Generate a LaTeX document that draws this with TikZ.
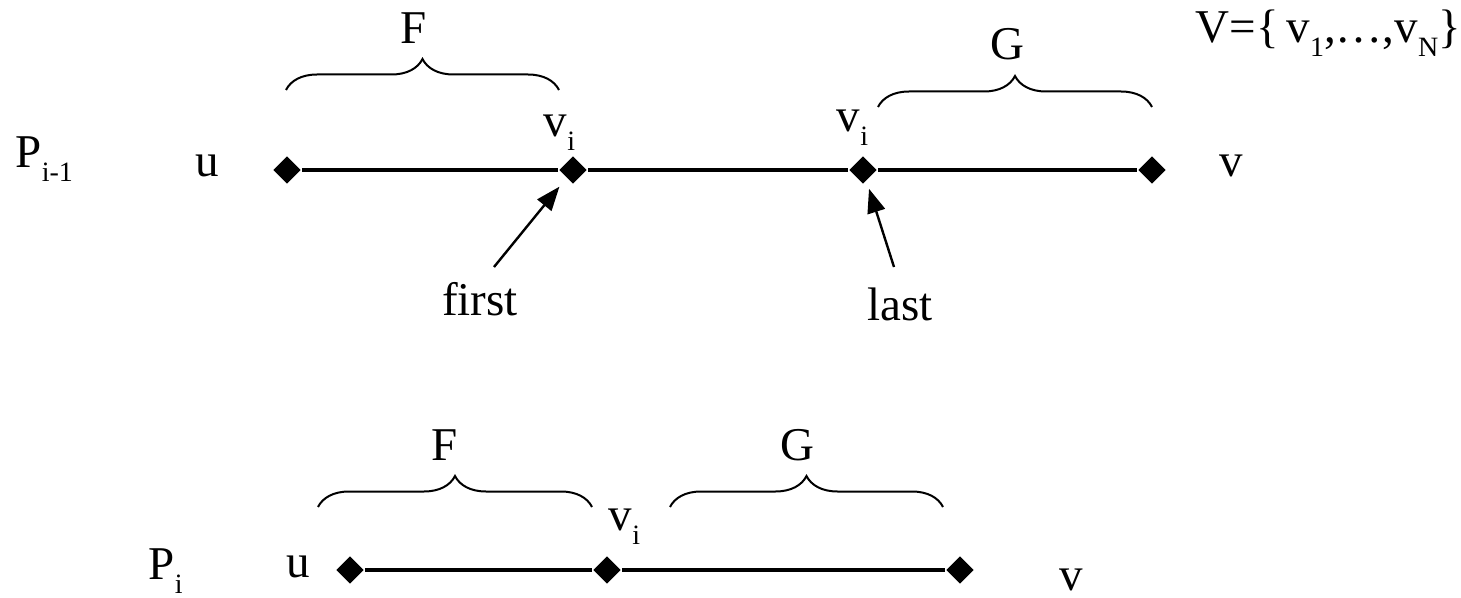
\documentclass[tikz,border=0pt]{standalone}
\usepackage{fontspec}
\setmainfont{Liberation Serif}
\usetikzlibrary{arrows.meta,shapes.geometric,decorations.pathreplacing}

\newcommand{\lowidx}[1]{\raisebox{-7pt}{\fontsize{14}{16}\selectfont #1}}

\tikzset{every picture/.style={line width=0.75pt}}
\tikzset{
  vtx/.style={diamond,fill=black,inner sep=0pt,minimum size=14pt},
  lbl/.style={font=\fontsize{23.5}{27}\selectfont,inner sep=0pt},
  pathln/.style={line width=1.6pt},
  brc/.style={decorate,decoration={brace,amplitude=15.5pt},line width=1pt},
  ptr/.style={-{Triangle[length=12pt,width=9pt]},line width=1.2pt},
}

\begin{document}
\begin{tikzpicture}[x=0.5pt,y=0.5pt,yscale=-1,xscale=1]
\useasboundingbox (0,0) rectangle (1461,598);

%Path P_{i-1}
\node [vtx] (a1) at (287,170) {};
\node [vtx] (a2) at (573,170) {};
\node [vtx] (a3) at (863,170) {};
\node [vtx] (a4) at (1152,170) {};
\draw [pathln] (a1) -- (a2) -- (a3) -- (a4) ;

%Path P_i
\node [vtx] (b1) at (350,570) {};
\node [vtx] (b2) at (607,570) {};
\node [vtx] (b3) at (960,570) {};
\draw [pathln] (b1) -- (b2) -- (b3) ;

%Braces
\draw [brc] (286,90) -- (559,90) ;
\draw [brc] (878,107) -- (1152,107) ;
\draw [brc] (318,507) -- (592,507) ;
\draw [brc] (670,507) -- (943,507) ;

% Text Node
\node [lbl,anchor=base west] (pprev) at (15,168) {P\lowidx{i-1}};
\node [lbl,anchor=base] (ua) at (207,177) {u};
\node [lbl,anchor=base] (va) at (1231,177) {v};
\node [lbl,anchor=base west] (via) at (543,137) {v\lowidx{i}};
\node [lbl,anchor=base west] (vib) at (836,132) {v\lowidx{i}};
\node [lbl,anchor=base] (fa) at (414,44) {F};
\node [lbl,anchor=base] (ga) at (1007,60) {G};
\node [lbl,anchor=base west] (vset) at (1195,43) {V=\{\,v\lowidx{1},\ldots,v\lowidx{N}\}};
\node [lbl,anchor=base] (first) at (480,316) {first};
\node [lbl,anchor=base] (last) at (900,321) {last};

% Text Node
\node [lbl,anchor=base west] (pcur) at (148,579) {P\lowidx{i}};
\node [lbl,anchor=base] (ub) at (298,577) {u};
\node [lbl,anchor=base] (vb) at (1071,590) {v};
\node [lbl,anchor=base west] (vic) at (608,530) {v\lowidx{i}};
\node [lbl,anchor=base] (fb) at (445,460) {F};
\node [lbl,anchor=base] (gb) at (797,460) {G};

%Arrows
\coordinate (firsttail) at (494,267);
\coordinate (lasttail) at (894,267);
\draw [ptr,shorten >=5.5pt] (firsttail) -- (a2) ;
\draw [ptr,shorten >=4pt] (lasttail) -- (a3) ;

\end{tikzpicture}
\end{document}
